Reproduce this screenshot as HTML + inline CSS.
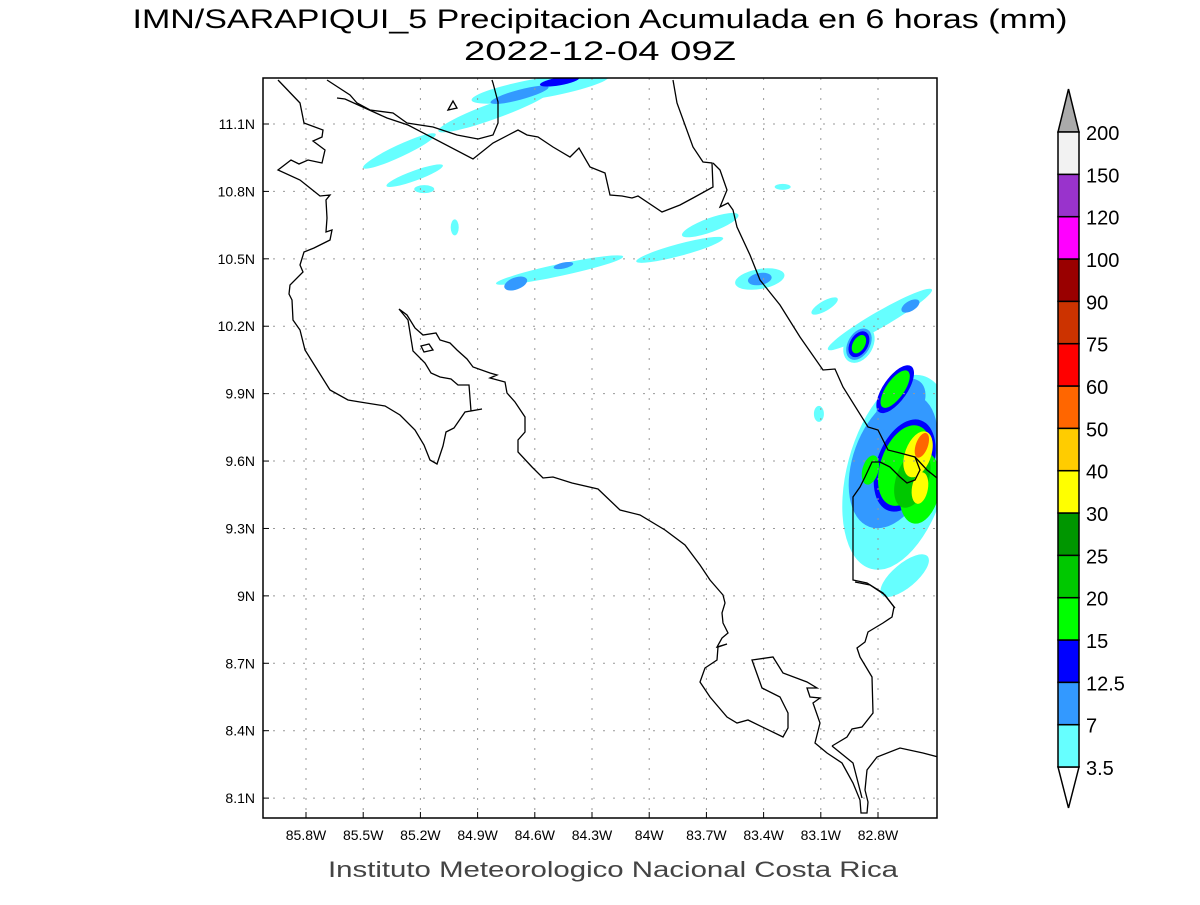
<!DOCTYPE html>
<html><head><meta charset="utf-8"><style>
body{margin:0;background:#fff;}
svg text{font-family:"Liberation Sans",sans-serif;}
</style></head><body>
<svg id="chart" width="1200" height="900" xmlns="http://www.w3.org/2000/svg">
<rect width="1200" height="900" fill="#fff"/>
<text x="600" y="28" font-size="27" text-anchor="middle" textLength="935" lengthAdjust="spacingAndGlyphs">IMN/SARAPIQUI_5 Precipitacion Acumulada en 6 horas (mm)</text>
<text x="600" y="60" font-size="27" text-anchor="middle" textLength="272" lengthAdjust="spacingAndGlyphs">2022-12-04 09Z</text>
<defs><clipPath id="frameclip"><rect x="263" y="78" width="674" height="740"/></clipPath></defs>
<g id="blobs" clip-path="url(#frameclip)"></g>
<g id="grid"></g>
<g clip-path="url(#frameclip)" fill="none" stroke="#000" stroke-width="1.3">
<path d="M278,80 300,103 304,123 323,130 322,137 313,141 325,150 322,163 308,160 299,164 291,160 278,170 300,180 310,188 320,196 330,195 326,200 327,218 326,232 332,230 330,240 314,248 304,252 300,265 303,272 290,285 289,294 292,300 293,320 300,330 305,350 330,390 348,400 360,402 385,406 400,415 415,430 424,445 430,460 437,464 443,446 446,432 454,428 465,412 482,409 471,411 469,385 458,385 451,379 440,377 431,373 425,363 413,351 408,320 399,309 407,315 415,328 423,335 436,333 440,340 450,343 457,350 467,359 473,367 490,373 497,375 490,378 505,382 507,393 515,402 525,417 525,432 518,440 518,452 532,467 543,478 553,477 572,483 598,489 620,510 640,515 665,530 685,545 700,565 710,580 723,595 725,603 722,613 723,623 728,633 722,638 717,647 727,644 718,647 717,660 705,668 700,682 710,697 727,717 737,723 748,720 783,737 788,728 788,713 780,697 762,688 752,660 773,657 783,673 807,682 817,688 807,688 810,697 820,698 813,703 820,723 815,743 827,753 842,763 853,783 860,800 861,813 867,813 868,802 865,790 867,770 877,757 900,748 923,753 938,757"/>
<path d="M832,746 853,763 862,798"/>
<path d="M832,746 847,737 852,729 862,727 873,713 872,677 860,657 857,648 865,642 868,632 883,623 892,617 894,607 885,595 870,585 855,582"/>
<path d="M327,80 350,95 357,103 370,110 393,113 407,123 433,127 457,135 478,139 493,135 498,123 498,102 493,83 492,80"/>
<path d="M337,98 345,99 387,118 408,125 473,159 493,143 518,130 527,135 538,137 553,147 570,157 579,148 590,167 605,173 610,195 622,196 632,198 638,196 662,212 680,205 693,198 713,187 712,163 703,162 693,147 677,103 673,80"/>
<path d="M713,163 720,170 727,190 720,207 728,203 733,210 737,227 750,255 760,280 780,305 800,337 823,370 835,369 843,387 868,427 878,430 888,450 900,453 915,457 927,470 937,478"/>
<path d="M880,462 872,462 865,477 860,487 853,497 853,580 867,583 883,593 895,608"/>
<path d="M880,462 890,467 900,477 907,483 915,480 920,470 915,457"/>
<path d="M448,110 453,101 457,108 Z"/>
<path d="M421,346 429,344 433,350 424,352 Z"/>
</g>
<rect x="263" y="78" width="674" height="740" fill="none" stroke="#000" stroke-width="1.5"/>
<g id="axes"></g>
<text x="613" y="877" font-size="22" text-anchor="middle" fill="#444" textLength="570" lengthAdjust="spacingAndGlyphs">Instituto Meteorologico Nacional Costa Rica</text>
<g id="colorbar"></g>
</svg>
<script>
const lonTicks=[-85.8,-85.5,-85.2,-84.9,-84.6,-84.3,-84,-83.7,-83.4,-83.1,-82.8];
const latTicks=[11.1,10.8,10.5,10.2,9.9,9.6,9.3,9.0,8.7,8.4,8.1];
const levelValues=[3.5,7,12.5,15,20,25,30,40,50,60,75,90,100,120,150,200];
const levelColors=["#66ffff","#3399ff","#0000ff","#00ff00","#00c800","#009600","#ffff00","#ffcc00","#ff6600","#ff0000","#cc3300","#990000","#ff00ff","#9933cc","#f2f2f2"];
// precipitation cells: lon, lat, value (mm)
const cellLon=[-84.81,-84.57,-84.68,-84.47,-85.31,-85.23,-85.18,-85.02,-84.47,-84.70,-84.45,-83.84,-83.68,-83.42,-83.42,-83.30,-83.08,-82.79,-82.63,-82.90,-82.90,-82.90,-82.90,-82.70,-82.72,-82.66,-82.66,-82.62,-82.59,-82.57,-82.71,-82.71,-82.84,-82.66,-83.11,-82.58,-82.58,-82.68];
const cellLat=[11.16,11.26,11.23,11.29,10.98,10.87,10.81,10.64,10.45,10.39,10.47,10.54,10.65,10.41,10.41,10.82,10.29,10.23,10.29,10.12,10.12,10.12,10.12,9.55,9.60,9.58,9.58,9.52,9.63,9.67,9.92,9.92,9.56,9.09,9.81,9.48,9.48,9.85];
const cellVal=[5,5,9,13,5,5,5,5,5,9,9,5,5,5,9,5,5,5,9,5,9,13,17,5,9,13,17,22,35,55,13,17,17,5,5,17,35,9];
const cellRx=[60,70,30,20,40,30,10,4,65,12,10,45,30,25,12,8,15,60,10,14,11,9,6,50,40,28,24,16,13,6,28,22,8,30,5,20,8,30];
const cellRy=[8,10,5,4,6,5,4,8,6,6,3,6,7,10,6,3,5,8,5,20,17,14,10,100,70,48,42,30,24,13,12,9,15,12,8,36,16,20];
const cellRot=[-20,-10,-15,-10,-25,-20,0,0,-12,-20,-12,-15,-20,-10,-10,0,-30,-30,-30,30,30,30,30,15,20,20,20,20,20,20,-55,-55,15,-40,0,10,10,-50];
const NS="http://www.w3.org/2000/svg";
const xOf=lon=>306+(lon+85.8)*190.67;
const yOf=lat=>124+(11.1-lat)*224.7;
function colorFor(v){let i=0;while(i<levelValues.length-1&&v>=levelValues[i+1])i++;return levelColors[i];}
const blobs=document.getElementById('blobs');
const order=cellVal.map((v,i)=>i).sort((a,b)=>cellVal[a]-cellVal[b]);
order.forEach(i=>{
 const e=document.createElementNS(NS,'ellipse');
 const cx=xOf(cellLon[i]),cy=yOf(cellLat[i]);
 e.setAttribute('cx',cx);e.setAttribute('cy',cy);
 e.setAttribute('rx',cellRx[i]);e.setAttribute('ry',cellRy[i]);
 e.setAttribute('transform','rotate('+cellRot[i]+' '+cx+' '+cy+')');
 e.setAttribute('fill',colorFor(cellVal[i]));
 
 
 blobs.appendChild(e);
});
const grid=document.getElementById('grid'),axes=document.getElementById('axes');
lonTicks.forEach(l=>{
 const x=xOf(l);
 const g=document.createElementNS(NS,'line');
 g.setAttribute('x1',x);g.setAttribute('x2',x);g.setAttribute('y1',78);g.setAttribute('y2',818);
 g.setAttribute('stroke','#999');g.setAttribute('stroke-dasharray','2,8');
 
 
 grid.appendChild(g);
 const t=document.createElementNS(NS,'line');
 t.setAttribute('x1',x);t.setAttribute('x2',x);t.setAttribute('y1',818);t.setAttribute('y2',812);t.setAttribute('stroke','#000');
 axes.appendChild(t);
 const tx=document.createElementNS(NS,'text');
 tx.setAttribute('x',x);tx.setAttribute('y',840);tx.setAttribute('font-size','14');tx.setAttribute('text-anchor','middle');
 tx.textContent=(Math.round(Math.abs(l)*10)/10)+'W';
 
 
 axes.appendChild(tx);
});
latTicks.forEach(l=>{
 const y=yOf(l);
 const g=document.createElementNS(NS,'line');
 g.setAttribute('y1',y);g.setAttribute('y2',y);g.setAttribute('x1',263);g.setAttribute('x2',937);
 g.setAttribute('stroke','#999');g.setAttribute('stroke-dasharray','2,8');
 
 
 grid.appendChild(g);
 const t=document.createElementNS(NS,'line');
 t.setAttribute('y1',y);t.setAttribute('y2',y);t.setAttribute('x1',263);t.setAttribute('x2',269);t.setAttribute('stroke','#000');
 axes.appendChild(t);
 const tx=document.createElementNS(NS,'text');
 tx.setAttribute('x',255);tx.setAttribute('y',y+5);tx.setAttribute('font-size','14');tx.setAttribute('text-anchor','end');
 tx.textContent=(Math.round(l*10)/10)+'N';
 
 
 axes.appendChild(tx);
});
const cb=document.getElementById('colorbar');
const cbTop=132,cbBot=767,cbX=1058,cbW=21,nLev=levelColors.length,boxH=(cbBot-cbTop)/nLev;
const arrowUp=document.createElementNS(NS,'path');
arrowUp.setAttribute('d',`M${cbX},${cbTop} L${cbX+cbW/2},89 L${cbX+cbW},${cbTop} Z`);
arrowUp.setAttribute('fill','#aaa');arrowUp.setAttribute('stroke','#000');arrowUp.setAttribute('stroke-width','1.5');


cb.appendChild(arrowUp);
const arrowDown=document.createElementNS(NS,'path');
arrowDown.setAttribute('d',`M${cbX},${cbBot} L${cbX+cbW/2},808 L${cbX+cbW},${cbBot} Z`);
arrowDown.setAttribute('fill','#fff');arrowDown.setAttribute('stroke','#000');arrowDown.setAttribute('stroke-width','1.5');


cb.appendChild(arrowDown);
for(let i=0;i<nLev;i++){
 const r=document.createElementNS(NS,'rect');
 r.setAttribute('x',cbX);r.setAttribute('y',cbBot-(i+1)*boxH);r.setAttribute('width',cbW);r.setAttribute('height',boxH);
 r.setAttribute('fill',levelColors[i]);r.setAttribute('stroke','#000');r.setAttribute('stroke-width','1.5');
 
 
 cb.appendChild(r);
}
levelValues.forEach((v,i)=>{
 const t=document.createElementNS(NS,'text');
 t.setAttribute('x',1086);t.setAttribute('y',cbBot-i*boxH+8);t.setAttribute('font-size','20');
 t.textContent=v;
 
 
 cb.appendChild(t);
});
</script>
</body></html>
